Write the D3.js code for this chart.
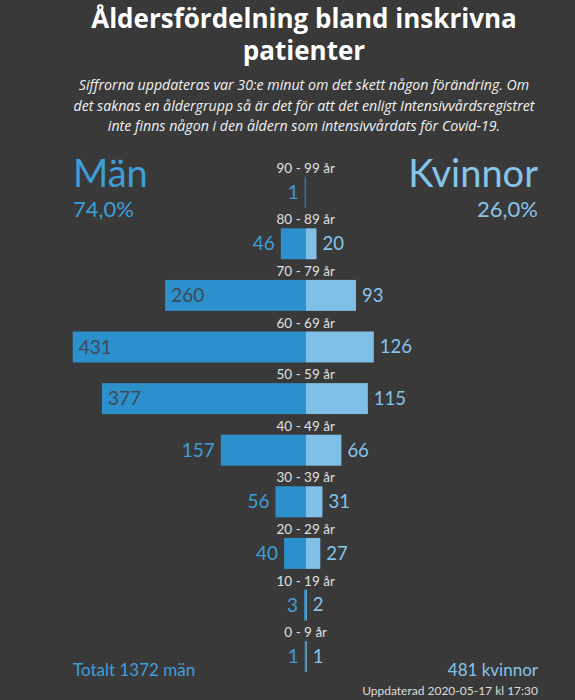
<!DOCTYPE html>
<html>
<head>
<meta charset="utf-8">
<script src="https://d3js.org/d3.v7.min.js"></script>
<style>
  body { margin: 0; background: #393939; }
  svg { display: block; }
</style>
</head>
<body>
<div id="chart"></div>
<script>
const ageGroups = ["90 - 99 år", "80 - 89 år", "70 - 79 år", "60 - 69 år", "50 - 59 år",
                   "40 - 49 år", "30 - 39 år", "20 - 29 år", "10 - 19 år", "0 - 9 år"];
const men   = [1, 46, 260, 431, 377, 157, 56, 40, 3, 1];
const women = [0, 20, 93, 126, 115, 66, 31, 27, 2, 1];

const w = 575, h = 700;
const cx = 305.7;
const menColor = "#2b90cc", womenColor = "#80c0e6";
const menText = "#3e9fd8", womenText = "#86c4ea";

const totalMen = d3.sum(men), totalWomen = d3.sum(women);
const pct = v => d3.format(".1f")(v * 100).replace(".", ",") + "%";

const svg = d3.select("#chart").append("svg")
  .attr("width", w).attr("height", h)
  .style("font-family", "Lato, sans-serif");

svg.append("rect").attr("width", w).attr("height", h).attr("fill", "#393939");

// title
const title = svg.append("text")
  .attr("text-anchor", "middle")
  .attr("fill", "#fff")
  .style("font-family", "'Open Sans', sans-serif")
  .style("font-weight", "bold")
  .style("font-size", "26px");
title.append("tspan").attr("x", 304).attr("y", 28).text("Åldersfördelning bland inskrivna");
title.append("tspan").attr("x", 304).attr("y", 60).text("patienter");

const sub = ["Siffrorna uppdateras var 30:e minut om det skett någon förändring. Om",
             "det saknas en åldergrupp så är det för att det enligt Intensivvårdsregistret",
             "inte finns någon i den åldern som intensivvårdats för Covid-19."];
svg.selectAll(".sub").data(sub).enter().append("text")
  .attr("class", "sub")
  .attr("x", 304)
  .attr("y", (d, i) => 90 + i * 20.5)
  .attr("text-anchor", "middle")
  .attr("fill", "#f2f2f2")
  .style("font-family", "'Open Sans', sans-serif")
  .style("font-style", "italic")
  .style("font-size", "14.2px")
  .text(d => d);

// headings
svg.append("text").attr("x", 73).attr("y", 187).attr("fill", menText)
  .style("font-size", "38px").text("Män");
svg.append("text").attr("x", 73).attr("y", 217).attr("fill", menText)
  .style("font-size", "22px").text(pct(totalMen / (totalMen + totalWomen)));
svg.append("text").attr("x", 538).attr("y", 187).attr("fill", womenText)
  .attr("text-anchor", "end").style("font-size", "38px").text("Kvinnor");
svg.append("text").attr("x", 538).attr("y", 217).attr("fill", womenText)
  .attr("text-anchor", "end").style("font-size", "22px").text(pct(totalWomen / (totalMen + totalWomen)));

// scales
const y = d3.scaleBand().domain(ageGroups).range([176.7, 672.1]).paddingInner(0.4).paddingOuter(0);
const x = d3.scaleLinear().domain([0, d3.max(men)]).range([0, 233]);
const bw = v => v > 0 ? Math.max(x(v), 1) : 0;

const rows = svg.selectAll(".row").data(ageGroups).enter().append("g").attr("class", "row");

rows.append("text")
  .attr("x", cx).attr("y", d => y(d) - 4)
  .attr("text-anchor", "middle")
  .attr("fill", "#e0e0e0")
  .style("font-size", "13.5px")
  .text(d => d);

rows.append("rect")
  .attr("x", (d, i) => cx - bw(men[i]))
  .attr("y", d => y(d))
  .attr("width", (d, i) => bw(men[i]))
  .attr("height", y.bandwidth())
  .attr("fill", menColor);

rows.append("rect")
  .attr("x", cx)
  .attr("y", d => y(d))
  .attr("width", (d, i) => bw(women[i]))
  .attr("height", y.bandwidth())
  .attr("fill", womenColor);

// men value labels
rows.append("text")
  .attr("x", (d, i) => x(men[i]) > 100 ? cx - x(men[i]) + 6 : cx - bw(men[i]) - 6)
  .attr("y", d => y(d) + y.bandwidth() / 2)
  .attr("dy", "0.35em")
  .attr("text-anchor", (d, i) => x(men[i]) > 100 ? "start" : "end")
  .attr("fill", (d, i) => x(men[i]) > 100 ? "#3f4a54" : menText)
  .style("font-size", "19px")
  .text((d, i) => men[i] > 0 ? men[i] : "");

// women value labels
rows.append("text")
  .attr("x", (d, i) => cx + bw(women[i]) + 6)
  .attr("y", d => y(d) + y.bandwidth() / 2)
  .attr("dy", "0.35em")
  .attr("fill", womenText)
  .style("font-size", "18.5px")
  .text((d, i) => women[i] > 0 ? women[i] : "");

// footer
svg.append("text").attr("x", 73).attr("y", 676).attr("fill", menText)
  .style("font-size", "17px").text("Totalt " + totalMen + " män");
svg.append("text").attr("x", 538).attr("y", 676).attr("fill", womenText)
  .attr("text-anchor", "end").style("font-size", "17px").text(totalWomen + " kvinnor");
svg.append("text").attr("x", 538).attr("y", 695).attr("fill", "#dcdcdc")
  .attr("text-anchor", "end").style("font-size", "12px").text("Uppdaterad 2020-05-17 kl 17:30");
</script>
</body>
</html>
